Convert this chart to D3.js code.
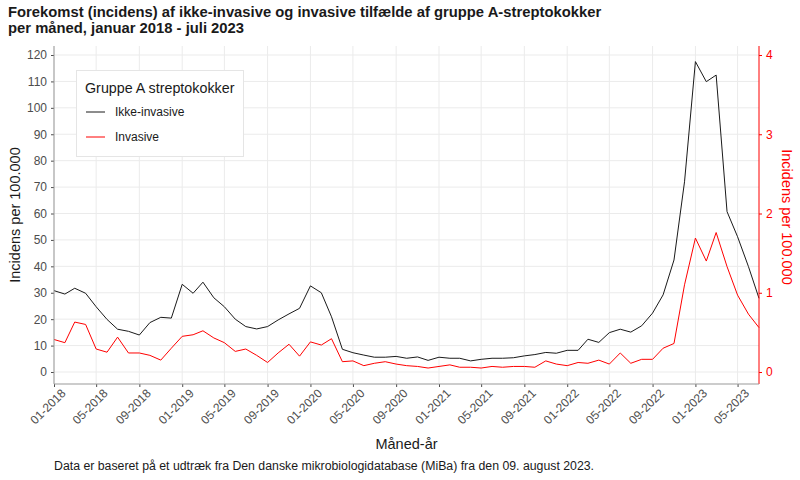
<!DOCTYPE html>
<html>
<head>
<meta charset="utf-8">
<script src="https://cdn.jsdelivr.net/npm/d3@7"></script>
<style>
  body { margin: 0; background: #fff; }
  text { font-family: "Liberation Sans", Arial, sans-serif; }
</style>
</head>
<body>
<svg id="chart" width="800" height="480"></svg>
<script>
// måneder jan 2018 - jul 2023
const months = d3.timeMonth.range(new Date(2018, 0, 1), new Date(2023, 7, 1));

// Ikke-invasive, incidens per 100.000 (venstre akse)
const ikkeInvasive = [30.8, 29.5, 31.7, 29.8, 24.7, 19.9, 16.2, 15.4, 14.0, 18.7, 20.7, 20.4,
  33.2, 29.8, 34.0, 28.1, 24.7, 20.0, 17.2, 16.3, 17.2, 19.7, 22.0, 24.1,
  32.6, 30.0, 20.9, 8.6, 7.3, 6.4, 5.6, 5.6, 5.9, 5.2, 5.7, 4.4,
  5.6, 5.2, 5.2, 4.2, 4.8, 5.2, 5.2, 5.4, 6.1, 6.6, 7.4, 7.1,
  8.2, 8.2, 12.4, 11.2, 14.9, 16.2, 15.1, 17.5, 22.3, 29.2, 42.4, 72.0,
  117.5, 109.9, 112.4, 60.7, 51.2, 39.9, 27.9];

// Invasive, incidens per 100.000 (højre akse)
const invasive = [0.41, 0.37, 0.63, 0.60, 0.29, 0.25, 0.44, 0.24, 0.24, 0.21, 0.15, 0.30,
  0.45, 0.47, 0.52, 0.43, 0.37, 0.26, 0.29, 0.21, 0.12, 0.24, 0.35, 0.20,
  0.38, 0.34, 0.42, 0.13, 0.14, 0.08, 0.11, 0.13, 0.10, 0.08, 0.07, 0.05,
  0.07, 0.09, 0.06, 0.06, 0.05, 0.07, 0.06, 0.07, 0.07, 0.06, 0.14, 0.10,
  0.08, 0.12, 0.11, 0.15, 0.10, 0.24, 0.11, 0.16, 0.16, 0.30, 0.36, 1.10,
  1.69, 1.40, 1.76, 1.33, 0.97, 0.73, 0.56];

const leftTicks = d3.range(0, 121, 10);
const rightTicks = [0, 1, 2, 3, 4];
const seriesNames = ["Ikke-invasive", "Invasive"];
const seriesColors = ["#1a1a1a", "#ff0000"];

const panel = { left: 54, right: 759, top: 46, bottom: 383 };

const svg = d3.select("#chart");

const x = d3.scaleTime()
  .domain([months[0], months[months.length - 1]])
  .range([panel.left, panel.right]);

const y = d3.scaleLinear().domain([0, 120]).range([372, 55]);
const y2 = d3.scaleLinear().domain([0, 4]).range([372, 55]);

const xTicks = x.ticks(d3.timeMonth.every(4));

// grid
svg.append("g")
  .selectAll("line")
  .data(leftTicks)
  .join("line")
  .attr("x1", panel.left).attr("x2", panel.right)
  .attr("y1", d => y(d)).attr("y2", d => y(d))
  .attr("stroke", "#ebebeb");

svg.append("g")
  .selectAll("line")
  .data(xTicks)
  .join("line")
  .attr("x1", d => x(d)).attr("x2", d => x(d))
  .attr("y1", panel.top).attr("y2", panel.bottom)
  .attr("stroke", "#ebebeb");

// linjer
const line1 = d3.line().x((d, i) => x(months[i])).y(d => y(d));
const line2 = d3.line().x((d, i) => x(months[i])).y(d => y2(d));

svg.append("path")
  .datum(ikkeInvasive)
  .attr("d", line1)
  .attr("fill", "none")
  .attr("stroke", seriesColors[0])
  .attr("stroke-width", 1);

svg.append("path")
  .datum(invasive)
  .attr("d", line2)
  .attr("fill", "none")
  .attr("stroke", seriesColors[1])
  .attr("stroke-width", 1);

// venstre akse
const yAxis = svg.append("g")
  .attr("transform", `translate(${panel.left},0)`)
  .call(d3.axisLeft(y).tickValues(leftTicks).tickSize(3).tickPadding(4));
yAxis.select(".domain").remove();
yAxis.selectAll(".tick line").attr("stroke", "#4d4d4d");
yAxis.selectAll(".tick text").attr("fill", "#4d4d4d").style("font-size", "12px");
svg.append("line")
  .attr("x1", panel.left).attr("x2", panel.left)
  .attr("y1", panel.top).attr("y2", panel.bottom + 1)
  .attr("stroke", "#999");

// højre akse
const y2Axis = svg.append("g")
  .attr("transform", `translate(${panel.right},0)`)
  .call(d3.axisRight(y2).tickValues(rightTicks).tickSize(3).tickPadding(4).tickFormat(d3.format("d")));
y2Axis.select(".domain").remove();
y2Axis.selectAll(".tick line").attr("stroke", "red");
y2Axis.selectAll(".tick text").attr("fill", "red").style("font-size", "12px");
svg.append("line")
  .attr("x1", panel.right).attr("x2", panel.right)
  .attr("y1", panel.top).attr("y2", panel.bottom + 1)
  .attr("stroke", "red");

// x-akse
const xAxis = svg.append("g")
  .attr("transform", `translate(0,${panel.bottom + 1})`)
  .call(d3.axisBottom(x).tickValues(xTicks).tickSize(3).tickFormat(d3.timeFormat("%m-%Y")));
xAxis.select(".domain").remove();
xAxis.selectAll(".tick line").attr("stroke", "#4d4d4d");
xAxis.selectAll(".tick text")
  .attr("fill", "#4d4d4d")
  .style("font-size", "12px")
  .attr("text-anchor", "end")
  .attr("transform", "translate(6,4) rotate(-45)")
  .attr("x", 0).attr("y", 0).attr("dy", "0.7em");
svg.append("line")
  .attr("x1", panel.left).attr("x2", panel.right)
  .attr("y1", panel.bottom + 1).attr("y2", panel.bottom + 1)
  .attr("stroke", "#999");

// titler
svg.append("text").attr("x", 8).attr("y", 17)
  .style("font-size", "14.8px").style("font-weight", "bold").attr("fill", "#1a1a1a")
  .text("Forekomst (incidens) af ikke-invasive og invasive tilfælde af gruppe A-streptokokker");
svg.append("text").attr("x", 8).attr("y", 33)
  .style("font-size", "14.8px").style("font-weight", "bold").attr("fill", "#1a1a1a")
  .text("per måned, januar 2018 - juli 2023");

svg.append("text")
  .attr("transform", "translate(20,215) rotate(-90)")
  .attr("text-anchor", "middle")
  .style("font-size", "14.5px").attr("fill", "#1a1a1a")
  .text("Incidens per 100.000");

svg.append("text")
  .attr("transform", "translate(782,217) rotate(90)")
  .attr("text-anchor", "middle")
  .style("font-size", "14.5px").attr("fill", "red")
  .text("Incidens per 100.000");

svg.append("text")
  .attr("x", (panel.left + panel.right) / 2).attr("y", 449)
  .attr("text-anchor", "middle")
  .style("font-size", "14.5px").attr("fill", "#1a1a1a")
  .text("Måned-år");

svg.append("text")
  .attr("x", 54).attr("y", 470)
  .style("font-size", "12.3px").attr("fill", "#1a1a1a")
  .text("Data er baseret på et udtræk fra Den danske mikrobiologidatabase (MiBa) fra den 09. august 2023.");

// legend
const legend = svg.append("g");
legend.append("rect")
  .attr("x", 76.5).attr("y", 70.5).attr("width", 167).attr("height", 86)
  .attr("fill", "#fff").attr("stroke", "#e5e5e5");
legend.append("text")
  .attr("x", 85).attr("y", 93)
  .style("font-size", "14.3px").attr("fill", "#1a1a1a")
  .text("Gruppe A streptokokker");
const items = legend.selectAll("g.item")
  .data(seriesNames)
  .join("g")
  .attr("class", "item")
  .attr("transform", (d, i) => `translate(0,${112 + i * 25})`);
items.append("line")
  .attr("x1", 86).attr("x2", 105)
  .attr("stroke", (d, i) => seriesColors[i]);
items.append("text")
  .attr("x", 115).attr("dy", "0.35em")
  .style("font-size", "12px").attr("fill", "#1a1a1a")
  .text(d => d);
</script>
</body>
</html>
